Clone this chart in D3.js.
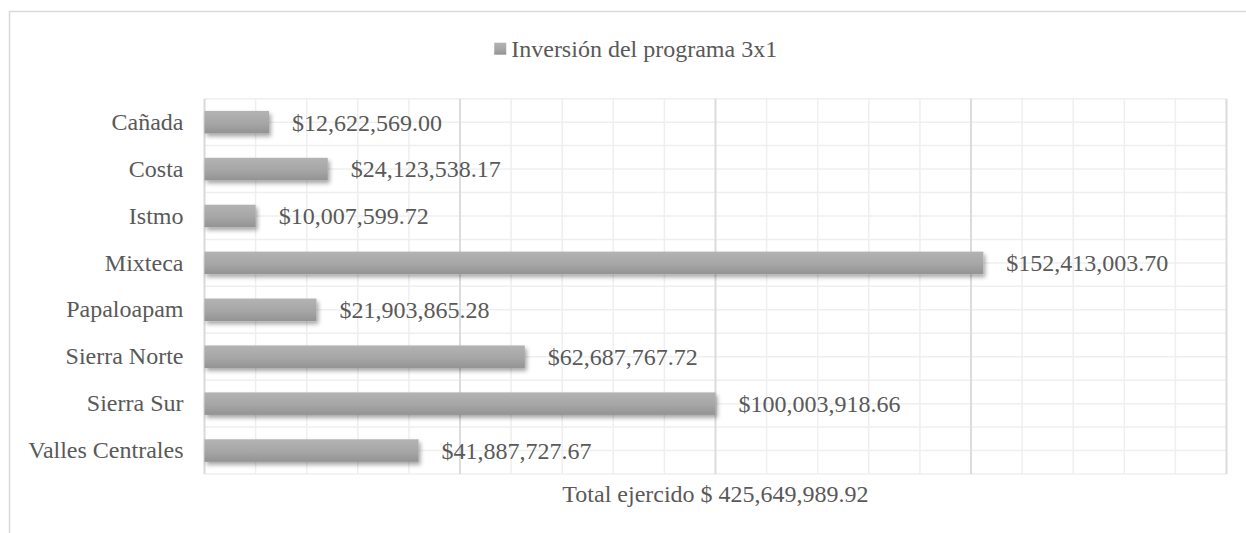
<!DOCTYPE html>
<html>
<head>
<meta charset="utf-8">
<script src="https://cdn.jsdelivr.net/npm/d3@7"></script>
<style>
  body { margin: 0; background: #fff; }
  svg { display: block; }
  text { font-family: "Liberation Serif", "Times New Roman", serif; fill: #595959; }
</style>
</head>
<body>
<svg id="chart1" width="1246" height="533"></svg>
<script>
// data
let regions = ["Cañada", "Costa", "Istmo", "Mixteca", "Papaloapam", "Sierra Norte", "Sierra Sur", "Valles Centrales"];
let inversion = [12622569.00, 24123538.17, 10007599.72, 152413003.70, 21903865.28, 62687767.72, 100003918.66, 41887727.67];
let legendLabel = "Inversión del programa 3x1";
let axisTitle = "Total ejercido $ 425,649,989.92";
let xMax = 200000000;

let margin = { left: 204.5, right: 1226.5, top: 98.7, bottom: 474 };

let svg = d3.select("#chart1");
let data = regions.map((r, i) => ({ region: r, value: inversion[i] }));

let xLinear = d3.scaleLinear()
  .domain([0, xMax])
  .range([margin.left, margin.right]);
let yBand = d3.scaleBand()
  .domain(regions)
  .range([margin.top, margin.bottom])
  .paddingInner(0.52)
  .paddingOuter(0.26);

let money = d3.format(",.2f");

// defs: gradient + shadow for bars
let defs = svg.append("defs");
let grad = defs.append("linearGradient")
  .attr("id", "barGrad")
  .attr("x1", 0).attr("y1", 0).attr("x2", 0).attr("y2", 1);
grad.append("stop").attr("offset", "0%").attr("stop-color", "#b3b3b3");
grad.append("stop").attr("offset", "55%").attr("stop-color", "#a6a6a6");
grad.append("stop").attr("offset", "100%").attr("stop-color", "#939393");

let shadow = defs.append("filter")
  .attr("id", "barShadow")
  .attr("x", "-5%").attr("y", "-30%").attr("width", "115%").attr("height", "180%");
shadow.append("feDropShadow")
  .attr("dx", 2).attr("dy", 3)
  .attr("stdDeviation", 2)
  .attr("flood-color", "#000")
  .attr("flood-opacity", 0.35);

// outer chart frame (only left/top edges fall inside the window)
svg.append("rect")
  .attr("x", 9.5).attr("y", 11.5)
  .attr("width", 1400).attr("height", 700)
  .attr("fill", "none")
  .attr("stroke", "#d9d9d9")
  .attr("stroke-width", 1.5);

// horizontal gridlines: band edges and band centers
let step = yBand.step();
let hLines = [];
regions.forEach((r) => {
  hLines.push(yBand(r) - step * yBand.paddingInner() / 2);
  hLines.push(yBand(r) + yBand.bandwidth() / 2);
});
hLines.push(margin.bottom);

svg.append("g")
  .selectAll("line")
  .data(hLines)
  .enter()
  .append("line")
    .attr("x1", margin.left)
    .attr("x2", margin.right)
    .attr("y1", (d) => d)
    .attr("y2", (d) => d)
    .attr("stroke", "#efefef")
    .attr("stroke-width", 1.5);

// vertical gridlines: minor every 10M, major every 50M
let minorTicks = xLinear.ticks(20);
svg.append("g")
  .selectAll("line")
  .data(minorTicks)
  .enter()
  .append("line")
    .attr("x1", (d) => xLinear(d))
    .attr("x2", (d) => xLinear(d))
    .attr("y1", margin.top)
    .attr("y2", margin.bottom)
    .attr("stroke", (d) => {
      if (d === 0) return "#d9d9d9";
      if (d % 50000000 === 0) return "#dcdcdc";
      return "#efefef";
    })
    .attr("stroke-width", (d) => (d % 50000000 === 0 ? 2 : 1.5));

// bars
svg.append("g")
  .selectAll("rect")
  .data(data)
  .enter()
  .append("rect")
    .attr("x", xLinear(0))
    .attr("y", (d) => yBand(d.region))
    .attr("width", (d) => xLinear(d.value) - xLinear(0))
    .attr("height", yBand.bandwidth())
    .attr("fill", "url(#barGrad)")
    .attr("filter", "url(#barShadow)");

// value labels
svg.append("g")
  .selectAll("text")
  .data(data)
  .enter()
  .append("text")
    .attr("x", (d) => xLinear(d.value) + 23)
    .attr("y", (d) => yBand(d.region) + yBand.bandwidth() / 2)
    .attr("dy", "0.35em")
    .style("font-size", "24px")
    .text((d) => "$" + money(d.value));

// category axis
let yAxis = d3.axisLeft(yBand).tickSize(0).tickPadding(21);
let yAxisG = svg.append("g")
  .attr("transform", "translate(" + margin.left + ",0)")
  .call(yAxis);
yAxisG.select(".domain").remove();
yAxisG.selectAll("text")
  .style("font-family", "'Liberation Serif', 'Times New Roman', serif")
  .style("font-size", "24px")
  .attr("fill", "#595959");

// axis title
svg.append("text")
  .attr("x", (margin.left + margin.right) / 2)
  .attr("y", 494)
  .attr("dy", "0.35em")
  .style("text-anchor", "middle")
  .style("font-size", "24px")
  .text(axisTitle);

// legend
let legend = svg.append("g");
let legendText = legend.append("text")
  .attr("x", 513)
  .attr("y", 48.5)
  .attr("dy", "0.35em")
  .style("font-size", "24px")
  .text(legendLabel);
let tw = legendText.node().getComputedTextLength();
let lx = 635.7 - (tw + 17) / 2;
legendText.attr("x", lx + 17);
legend.append("rect")
  .attr("x", lx)
  .attr("y", 42.7)
  .attr("width", 12)
  .attr("height", 12)
  .attr("fill", "url(#barGrad)");
</script>
</body>
</html>
